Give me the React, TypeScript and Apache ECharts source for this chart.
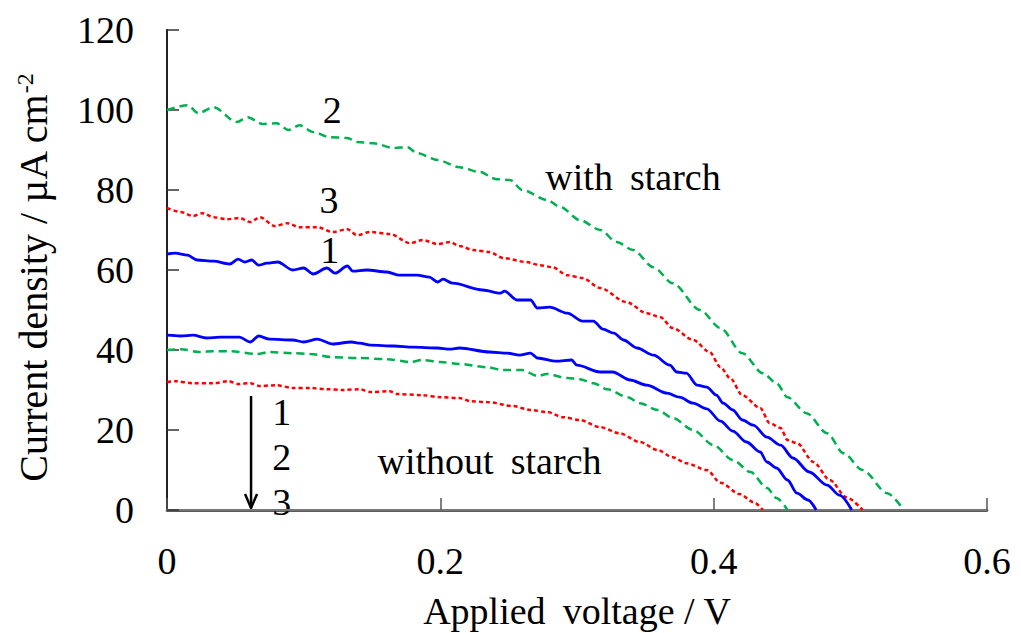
import React, { useEffect, useRef } from "react";
import * as echarts from "echarts";

// ---- data: [applied voltage (V), current density (µA cm^-2)] ----
const withStarch1: number[][] = [[0,64],[0.006,64.2],[0.015,63.7],[0.022,62.5],[0.034,62.2],[0.046,61.5],[0.052,62.7],[0.057,62],[0.062,62.5],[0.067,61.2],[0.073,61.7],[0.081,62],[0.092,60],[0.1,60.5],[0.107,59],[0.117,60.5],[0.123,59.2],[0.132,61],[0.136,59.7],[0.146,60],[0.161,59.5],[0.17,58.7],[0.183,58.7],[0.192,58.2],[0.198,57],[0.202,57.7],[0.209,56.7],[0.231,55],[0.244,54.2],[0.247,54.7],[0.256,52.5],[0.266,52.5],[0.271,50.5],[0.28,50.7],[0.293,49.2],[0.304,47.2],[0.312,47.2],[0.319,45.2],[0.327,44.2],[0.334,42.5],[0.344,40.5],[0.356,38.7],[0.368,36.2],[0.373,34.5],[0.38,34.2],[0.388,31.2],[0.395,30.7],[0.402,28.7],[0.407,26.7],[0.414,25],[0.421,22.5],[0.429,21.2],[0.439,18.2],[0.449,16.2],[0.458,13],[0.47,9.5],[0.483,6.2],[0.492,3.7],[0.501,0]];
const withStarch2: number[][] = [[0,100],[0.015,101.2],[0.023,99.2],[0.034,100.7],[0.051,97],[0.059,98.2],[0.07,96.5],[0.08,96.7],[0.089,95],[0.097,96.2],[0.107,94.5],[0.119,93.2],[0.132,93],[0.139,92],[0.151,91.7],[0.166,90.5],[0.176,90.7],[0.183,89.2],[0.198,87.5],[0.214,85.7],[0.229,84.5],[0.241,82.7],[0.251,82.5],[0.26,80],[0.278,77.5],[0.288,75.7],[0.302,72.5],[0.317,70],[0.329,67],[0.341,65],[0.356,60.7],[0.37,56.7],[0.39,50],[0.405,45.5],[0.421,39.2],[0.436,34.2],[0.446,31.7],[0.454,28.2],[0.468,24.2],[0.483,19.2],[0.495,14.2],[0.509,10],[0.527,4.2],[0.539,0]];
const withStarch3: number[][] = [[0,75.5],[0.01,74.5],[0.019,73.5],[0.026,74.2],[0.034,73.2],[0.044,72.7],[0.053,73],[0.061,72],[0.068,73.2],[0.079,71],[0.088,71.7],[0.097,70.7],[0.11,70.7],[0.121,69.5],[0.132,70.2],[0.139,68.7],[0.149,69.5],[0.163,69],[0.178,66.7],[0.187,67.5],[0.198,66.5],[0.207,67],[0.214,66],[0.224,65],[0.236,64.5],[0.246,63],[0.263,62],[0.273,61.2],[0.282,60.7],[0.293,58.7],[0.304,58],[0.317,55.5],[0.336,52],[0.351,49.2],[0.361,48.2],[0.37,45.5],[0.385,42.5],[0.397,39.5],[0.405,35.7],[0.412,33],[0.421,28.7],[0.434,25.5],[0.441,21.7],[0.449,20.5],[0.454,17.5],[0.461,16.7],[0.473,12],[0.485,7.5],[0.497,3.2],[0.509,0]];
const withoutStarch1: number[][] = [[0,43.7],[0.01,43.5],[0.019,43.7],[0.029,43],[0.039,43.2],[0.053,43.2],[0.061,42],[0.067,43.5],[0.075,42.7],[0.092,42.5],[0.1,42],[0.11,42.7],[0.121,41.5],[0.135,42],[0.141,41.7],[0.149,41.2],[0.166,41],[0.18,40.7],[0.198,40.5],[0.207,40.2],[0.214,40.5],[0.236,39.5],[0.249,39.2],[0.258,38.7],[0.266,39.2],[0.271,38],[0.285,37.2],[0.296,37.5],[0.3,36.2],[0.317,34.5],[0.326,34.5],[0.339,32.5],[0.351,31.2],[0.366,29.2],[0.375,28.2],[0.385,26.7],[0.395,25.3],[0.405,22.2],[0.414,19.7],[0.424,17],[0.434,14.5],[0.439,12],[0.446,10.5],[0.454,7.5],[0.461,4.2],[0.469,2.5],[0.475,0]];
const withoutStarch2: number[][] = [[0,40],[0.01,40.2],[0.024,39.5],[0.034,39.7],[0.046,39.7],[0.066,39],[0.075,39.5],[0.092,39.2],[0.105,39],[0.121,38.2],[0.141,38],[0.161,37.7],[0.178,37],[0.187,37.5],[0.2,37],[0.214,36.5],[0.234,35.7],[0.246,35],[0.26,35],[0.271,33.5],[0.278,34],[0.293,33],[0.302,32.7],[0.312,31.7],[0.322,30.2],[0.337,28.2],[0.346,26.7],[0.359,25],[0.37,23],[0.385,20],[0.4,16.2],[0.414,12.5],[0.427,9.5],[0.439,5.5],[0.446,3],[0.454,0]];
const withoutStarch3: number[][] = [[0,32],[0.006,32.2],[0.019,31.7],[0.034,31.7],[0.045,32.2],[0.052,31.5],[0.061,31.7],[0.068,31],[0.08,31.2],[0.092,30.5],[0.105,30.5],[0.117,30.2],[0.129,30],[0.141,30.2],[0.149,29.5],[0.163,29.7],[0.168,29],[0.187,28.7],[0.2,28.2],[0.214,28],[0.222,27.2],[0.234,27],[0.253,26],[0.266,25],[0.278,24.5],[0.29,23.2],[0.302,22.5],[0.317,20.7],[0.331,19.2],[0.346,17],[0.359,15],[0.37,13.2],[0.38,11.7],[0.395,10],[0.405,6.8],[0.419,4],[0.429,2],[0.436,0]];

const xTickLabels = ["0", "0.2", "0.4", "0.6"];
const yTickLabels = ["0", "20", "40", "60", "80", "100", "120"];

// annotation texts with their anchor in data coordinates [V, J]
const annotations: { text: string; at: number[] }[] = [
  { text: "2", at: [0.121, 100] },
  { text: "3", at: [0.1185, 77.5] },
  { text: "1", at: [0.119, 65] },
  { text: "with\u2009 starch", at: [0.341, 83.2] },
  { text: "without\u2009 starch", at: [0.236, 12.2] },
  { text: "1", at: [0.084, 24.5] },
  { text: "2", at: [0.084, 13.2] },
  { text: "3", at: [0.084, 2] },
];
const arrowFrom = [0.0615, 28.5];
const arrowTo = [0.0615, 0.5];

const FONT = "Liberation Serif";
const FS = 38;
const BLUE = "#0000FF";
const RED = "#FF0000";
const GREEN = "#00B050";

export default function App() {
  const ref = useRef<HTMLDivElement>(null);
  useEffect(() => {
    if (!ref.current) return;
    const chart = echarts.init(ref.current, null, { renderer: "svg" });
    const solid = (data: number[][]) => ({
      type: "line", data, showSymbol: false, symbol: "none", silent: true,
      smooth: 0.3, smoothMonotone: "x",
      lineStyle: { color: BLUE, width: 2.8, type: "solid" },
    });
    const dashed = (data: number[][], color: string, dash: number[]) => ({
      type: "line", data, showSymbol: false, symbol: "none", silent: true,
      smooth: 0.3, smoothMonotone: "x",
      lineStyle: { color, width: 2.5, type: dash },
    });
    chart.setOption({
      animation: false,
      backgroundColor: "#ffffff",
      textStyle: { fontFamily: FONT },
      grid: { left: 167, top: 30, right: 34, bottom: 123, containLabel: false, outerBoundsMode: "none" },
      xAxis: [
        {
          type: "value", min: 0, max: 0.6, interval: 0.2,
          name: "Applied\u2009 voltage / V", nameLocation: "middle", nameGap: 82,
          nameTextStyle: { fontFamily: FONT, fontSize: 38, color: "#000" },
          axisLine: { show: true, lineStyle: { color: "#222", width: 2.5 } },
          axisTick: { show: true, inside: true, length: 12, lineStyle: { color: "#555", width: 1.5 } },
          axisLabel: {
            fontFamily: FONT, fontSize: FS, color: "#000", margin: 32,
            formatter: (v: number) => xTickLabels[Math.round(v / 0.2)] ?? "",
          },
          splitLine: { show: false },
        },
        {
          type: "value", min: 0, max: 0.6, position: "top",
          axisLine: { show: true, lineStyle: { color: "#777", width: 2 } },
          axisTick: { show: false }, axisLabel: { show: false }, splitLine: { show: false },
        },
      ],
      yAxis: [
        {
          type: "value", min: 0, max: 120, interval: 20,
          name: "{a|Current density / µA cm}{s|-2}", nameLocation: "middle", nameGap: 114,
          nameRotate: 90,
          nameTextStyle: {
            fontFamily: FONT, fontSize: 40, color: "#000", padding: [0, 16, 0, 0],
            rich: {
              a: { fontFamily: FONT, fontSize: 40, color: "#000" },
              s: { fontFamily: FONT, fontSize: 24, color: "#000", verticalAlign: "top", padding: [0, 0, 14, 0] },
            },
          },
          axisLine: { show: true, lineStyle: { color: "#222", width: 2 } },
          axisTick: { show: true, inside: true, length: 12, lineStyle: { color: "#333", width: 1.5 } },
          axisLabel: {
            fontFamily: FONT, fontSize: FS, color: "#000", margin: 33,
            formatter: (v: number) => yTickLabels[Math.round(v / 20)] ?? "",
          },
          splitLine: { show: false },
        },
        {
          type: "value", min: 0, max: 120, position: "right",
          axisLine: { show: true, lineStyle: { color: "#222", width: 2 } },
          axisTick: { show: false }, axisLabel: { show: false }, splitLine: { show: false },
        },
      ],
      series: [
        dashed(withStarch2, GREEN, [8, 5]),
        dashed(withStarch3, RED, [4, 3]),
        solid(withStarch1),
        solid(withoutStarch1),
        dashed(withoutStarch2, GREEN, [8, 5]),
        dashed(withoutStarch3, RED, [4, 3]),
      ],
    });

    const px = (p: number[]) => chart.convertToPixel({ gridIndex: 0 }, p) as number[];
    const graphics: any[] = annotations.map((a) => {
      const [x, y] = px(a.at);
      return {
        type: "text", x, y, silent: true,
        style: { text: a.text, fill: "#000", font: `${FS}px ${FONT}`, align: "center", verticalAlign: "middle" },
      };
    });
    const [ax, ay1] = px(arrowFrom);
    const [, ay2] = px(arrowTo);
    graphics.push({
      type: "line", silent: true,
      shape: { x1: ax, y1: ay1, x2: ax, y2: ay2 },
      style: { stroke: "#000", lineWidth: 2.5 },
    });
    graphics.push({
      type: "polyline", silent: true,
      shape: { points: [[ax - 6, ay2 - 14], [ax, ay2], [ax + 6, ay2 - 14]] },
      style: { stroke: "#000", lineWidth: 2.5, fill: "none" },
    });
    chart.setOption({ graphic: graphics });

    return () => chart.dispose();
  }, []);
  return (
    <div
      ref={ref}
      style={{ position: "fixed", left: 0, top: 0, width: 1021, height: 633, background: "#fff" }}
    />
  );
}
